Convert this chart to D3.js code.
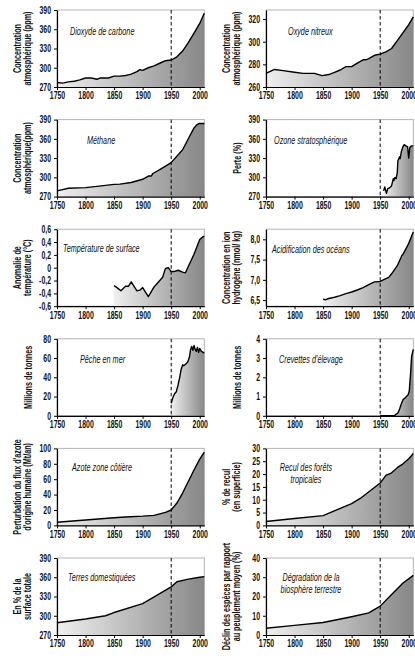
<!DOCTYPE html>
<html><head><meta charset="utf-8">
<script src="https://cdn.jsdelivr.net/npm/d3@7"></script>
<style>
html,body{margin:0;padding:0;background:#fff;}
svg{display:block;}
text{font-family:"Liberation Sans",Arial,sans-serif;fill:#111;}
</style></head><body>
<svg id="c" width="415" height="662"></svg>
<script>
// ---------- data ----------
const xTicks = [1750,1800,1850,1900,1950,2000];
const xTickLabels = ["1750","1800","1850","1900","1950","2000"];

const co2Years  = [1750,1760,1770,1780,1790,1800,1810,1820,1825,1840,1850,1860,1870,1875,1880,1890,1895,1900,1910,1920,1930,1940,1950,1960,1970,1980,1990,2000,2008];
const co2Values = [277,276,278,279,281,284,284,282,284,284,287,287,288,289,290,294,297,296,300,303,307,311,312,317,326,339,354,369,385];

const n2oYears  = [1750,1765,1780,1800,1815,1835,1848,1860,1870,1880,1890,1900,1910,1920,1925,1930,1940,1950,1960,1970,1980,1990,2000,2008];
const n2oValues = [272,275.5,274.5,273,272,272,270,271,273,275,278,278,281,284,284,285,288,289,291,294,301,308,315,322];

const ch4Years  = [1750,1770,1800,1820,1850,1860,1880,1900,1910,1915,1918,1930,1950,1970,1990,1995,2000,2008];
const ch4Values = [279,283,284,286,289,289.5,292,297,302,302,306,312,323,343,377,382,384,384];

const ozoneYears  = [1956,1958,1961,1963,1967,1970,1973,1974,1976,1978,1980,1981,1984,1985,1987,1990,1992,1995,1998,2000,2002,2005,2008];
const ozoneValues = [279,285,275,282,284,287,298,295,300,298,308,326,332,329,340,348,351,349,348,330,347,349,349];

const tempYears  = [1850,1855,1862,1870,1875,1880,1890,1895,1900,1905,1910,1920,1930,1935,1940,1945,1950,1955,1962,1970,1975,1980,1990,2000,2005,2008];
const tempValues = [-0.28,-0.31,-0.36,-0.29,-0.29,-0.22,-0.36,-0.35,-0.31,-0.38,-0.45,-0.30,-0.20,-0.15,-0.01,0.0,-0.06,-0.06,-0.04,-0.07,-0.08,0.02,0.21,0.44,0.48,0.49];

const acidYears  = [1850,1855,1860,1870,1880,1890,1900,1910,1920,1930,1940,1950,1960,1965,1970,1980,1988,1990,2000,2008];
const acidValues = [6.52,6.51,6.54,6.57,6.61,6.66,6.70,6.75,6.81,6.88,6.95,6.96,7.03,7.06,7.15,7.35,7.60,7.63,7.90,8.18];

const fishYears  = [1950,1953,1956,1959,1962,1965,1967,1969,1970,1972,1974,1976,1979,1982,1984,1986,1988,1990,1992,1994,1996,1998,2000,2003,2006,2008];
const fishValues = [13,19,23,25,32,40,47,51,53,52,53,54,56,61,69,72,68,73,69,67,71,66,70,67,66,65];

const shrimpYears  = [1950,1975,1978,1981,1984,1987,1990,1993,1996,1999,2001,2003,2005,2008];
const shrimpValues = [0,0,0.09,0.14,0.35,0.61,0.84,0.91,1.0,1.09,1.3,2.1,3.07,3.45];

const nitroYears  = [1750,1800,1850,1870,1900,1920,1940,1950,1960,1970,1980,1990,2000,2008];
const nitroValues = [4,7,10,11,12,13,17,20,29,42,57,72,86,95];

const forestYears  = [1750,1800,1850,1900,1915,1950,1960,1970,1980,1990,2000,2008];
const forestValues = [1.5,2.7,3.8,8.5,10.5,16.5,19.5,20.5,22.5,24,26,28];

const landYears  = [1750,1800,1835,1850,1900,1950,1960,1980,2000,2008];
const landValues = [289,295,300,305,319,345,353,357,360,361];

const bioYears  = [1750,1800,1850,1900,1930,1950,1970,1990,2008];
const bioValues = [3.5,5,6.5,9.5,11.5,15,21,27,31];

const ticks390 = [270,300,330,360,390];
const ticksN2o = [260,280,300,320];
const ticksTemp = [-0.6,-0.4,-0.2,0,0.2,0.4,0.6];
const tickLabelsTemp = ["-0,6","-0,4","-0,2","0","0,2","0,4","0,6"];
const ticksAcid = [6.5,7.0,7.5,8.0];
const tickLabelsAcid = ["6,5","7,0","7,5","8,0"];
const ticksFish = [0,20,40,60,80];
const ticksShrimp = [0,1,2,3,4];
const ticksNitro = [0,20,40,60,80,100];
const ticksForest = [0,5,10,15,20,25,30];
const ticksBio = [0,10,20,30,40];

const titles = [
 ["Dioxyde de carbone"],["Oxyde nitreux"],["Méthane"],["Ozone stratosphérique"],
 ["Température de surface"],["Acidification des océans"],["Pêche en mer"],["Crevettes d'élevage"],
 ["Azote zone côtière"],["Recul des forêts","tropicales"],["Terres domestiquées"],["Dégradation de la","biosphère terrestre"]
];
const yLabels = [
 ["Concentration","atmosphérique (ppm)"],["Concentration","atmosphérique (ppm)"],
 ["Concentration","atmosphérique(ppm)"],["Perte (%)"],
 ["Anomalie de","température (°C)"],["Concentration en ion","hydrogène (nmol/ kg)"],
 ["Millions de tonnes"],["Millions de tonnes"],
 ["Perturbation du flux d'azote","d'origine humaine (Mt/an)"],["% de recul","(en superficie)"],
 ["En % de la","surface totale"],["Déclin des espèces par rapport","au peuplement moyen (%)"]
];

// ---------- layout ----------
const panels = [
 {xs:co2Years, ys:co2Values, dom:[270,390], tv:ticks390, tl:null, tdx:13, tdy:25, anchor:"start"},
 {xs:n2oYears, ys:n2oValues, dom:[260,328], tv:ticksN2o, tl:null, tdx:22, tdy:25, anchor:"start"},
 {xs:ch4Years, ys:ch4Values, dom:[270,390], tv:ticks390, tl:null, tdx:30, tdy:24, anchor:"start"},
 {xs:ozoneYears, ys:ozoneValues, dom:[270,390], tv:ticks390, tl:null, tdx:8, tdy:24, anchor:"start"},
 {xs:tempYears, ys:tempValues, dom:[-0.6,0.6], tv:ticksTemp, tl:tickLabelsTemp, tdx:6, tdy:23, anchor:"start"},
 {xs:acidYears, ys:acidValues, dom:[6.35,8.25], tv:ticksAcid, tl:tickLabelsAcid, tdx:6, tdy:24, anchor:"start"},
 {xs:fishYears, ys:fishValues, dom:[0,80], tv:ticksFish, tl:null, tdx:23, tdy:24, anchor:"start"},
 {xs:shrimpYears, ys:shrimpValues, dom:[0,4], tv:ticksShrimp, tl:null, tdx:13, tdy:24, anchor:"start"},
 {xs:nitroYears, ys:nitroValues, dom:[0,100], tv:ticksNitro, tl:null, tdx:15, tdy:23, anchor:"start"},
 {xs:forestYears, ys:forestValues, dom:[0,30], tv:ticksForest, tl:null, tdx:40, tdy:23, anchor:"middle"},
 {xs:landYears, ys:landValues, dom:[270,390], tv:ticks390, tl:null, tdx:11, tdy:23, anchor:"start"},
 {xs:bioYears, ys:bioValues, dom:[0,40], tv:ticksBio, tl:null, tdx:45, tdy:23, anchor:"middle"}
];

const svg = d3.select("#c");
const defs = svg.append("defs");
const grad = defs.append("linearGradient").attr("id","g").attr("x1","0").attr("x2","1").attr("y1","0").attr("y2","0");
grad.append("stop").attr("offset","0").attr("stop-color","#efefef");
grad.append("stop").attr("offset","1").attr("stop-color","#878787");

const cols = [[57,204.3],[266,413.3]];
const H = 77;
const SX = 0.68;

panels.forEach((p,i)=>{
  const col = i%2, row = Math.floor(i/2);
  const top = 10 + row*109.6, bot = top + H;
  const [L,R] = cols[col];
  const x = d3.scaleLinear().domain([1750,2008]).range([L,R]);
  const y = d3.scaleLinear().domain(p.dom).range([bot,top]);
  const g = svg.append("g");

  g.append("rect").attr("x",L).attr("y",top).attr("width",R-L).attr("height",H)
    .attr("fill","none").attr("stroke","#b5b5b5").attr("stroke-width",1);

  const pts = p.xs.map((d,k)=>[d,p.ys[k]]);
  g.append("path").datum(pts)
    .attr("d", d3.area().x(d=>x(d[0])).y0(bot).y1(d=>y(d[1])))
    .attr("fill","url(#g)");
  g.append("path").datum(pts)
    .attr("d", d3.line().x(d=>x(d[0])).y(d=>y(d[1])))
    .attr("fill","none").attr("stroke","#000").attr("stroke-width",1.4).attr("stroke-linejoin","round");

  g.append("line").attr("x1",x(1950)).attr("x2",x(1950)).attr("y1",top).attr("y2",bot)
    .attr("stroke","#000").attr("stroke-width",1).attr("stroke-dasharray","3.5,2.5");

  const ya = d3.axisLeft(y).tickValues(p.tv).tickSize(3).tickSizeOuter(0).tickPadding(3)
    .tickFormat((d,k)=> p.tl ? p.tl[k] : String(d));
  const yg = g.append("g").attr("transform",`translate(${L},0)`).call(ya);
  const xa = d3.axisBottom(x).tickValues(xTicks).tickSize(3).tickSizeOuter(0).tickPadding(2)
    .tickFormat((d,k)=>xTickLabels[k]);
  const xg = g.append("g").attr("transform",`translate(0,${bot})`).call(xa);
  [yg,xg].forEach(ag=>{
    ag.select(".domain").attr("stroke","#000").attr("stroke-width",1.2);
    ag.selectAll(".tick line").attr("stroke","#000");
    ag.selectAll(".tick text").attr("font-size",10.5).attr("font-weight","bold").attr("fill","#111")
      .attr("font-family",null)
      .each(function(){
        const t=d3.select(this); const tx=+t.attr("x")||0;
        t.attr("x",null).attr("transform",`translate(${tx},0) scale(0.66,1)`);
      });
  });

  // title
  const tt = g.append("text").attr("font-style","italic").attr("font-size",10.5).attr("fill","#1a1a1a")
    .attr("text-anchor",p.anchor)
    .attr("transform",`translate(${L+p.tdx},${top+p.tdy}) scale(0.69,1)`);
  titles[i].forEach((s,k)=> tt.append("tspan").attr("x",0).attr("dy",k?12:0).text(s));

  // y label
  const lines = yLabels[i];
  const cy = (top+bot)/2;
  const xsL = lines.length===2 ? [L-40,L-30] : [L-29];
  lines.forEach((s,k)=>{
    g.append("text").attr("font-size",11).attr("font-weight","bold").attr("text-anchor","middle")
      .attr("dominant-baseline","central")
      .attr("transform",`translate(${xsL[k]},${cy}) rotate(-90) scale(0.66,1)`).text(s);
  });
});
</script></body></html>
